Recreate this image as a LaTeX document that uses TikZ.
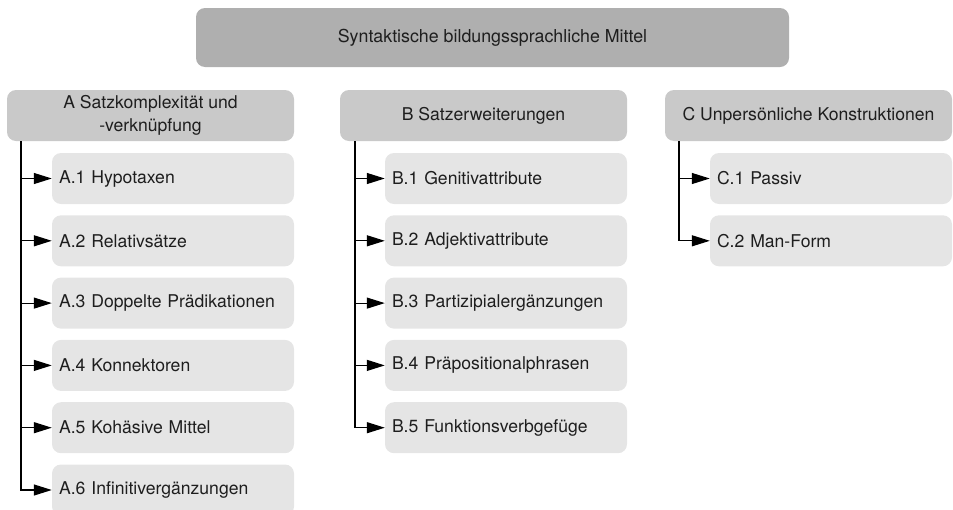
\documentclass[tikz,border=0pt]{standalone}
\usepackage{fontspec}
\setmainfont{TeX Gyre Heros}
\usetikzlibrary{arrows.meta}
\definecolor{topgray}{HTML}{AFAFAF}
\definecolor{headgray}{HTML}{C9C9C9}
\definecolor{itemgray}{HTML}{E5E5E5}
\definecolor{textgray}{HTML}{1E1E1E}
\tikzset{
	topbox/.style={fill=topgray, rounded corners=9pt, minimum width=593pt, minimum height=59pt, text=textgray, font=\fontsize{17.8}{23}\selectfont},
	headbox/.style={fill=headgray, rounded corners=9pt, minimum width=287pt, minimum height=51pt, align=center, text=textgray, font=\fontsize{17.6}{23}\selectfont},
	itembox/.style={fill=itemgray, rounded corners=9pt, text width=228pt, inner xsep=7pt, minimum height=51pt, align=left, text=textgray, font=\fontsize{17.6}{23}\selectfont},
	trunk/.style={line width=1.2pt, -{Triangle[length=18pt,width=11pt]}}
}

\begin{document}
\begin{tikzpicture}[x=1pt,y=-1pt]
	\useasboundingbox (0,0) rectangle (953,509);
	\node[topbox] (top) at (492.5, 37.5) {Syntaktische bildungssprachliche Mittel};
	\node[headbox] (hA) at (150.5, 115.5) {A Satzkomplexität und\\-verknüpfung};
	\node[headbox] (hB) at (483.5, 115.5) {B Satzerweiterungen};
	\node[headbox] (hC) at (808.5, 115.5) {C Unpersönliche Konstruktionen};
	\node[itembox] (a1) at (173, 178.5) {A.1 Hypotaxen};
	\node[itembox] (a2) at (173, 240.8) {A.2 Relativsätze};
	\node[itembox] (a3) at (173, 303.1) {A.3 Doppelte Prädikationen};
	\node[itembox] (a4) at (173, 365.4) {A.4 Konnektoren};
	\node[itembox] (a5) at (173, 427.7) {A.5 Kohäsive Mittel};
	\node[itembox] (a6) at (173, 490) {A.6 Infinitivergänzungen};
	\node[itembox] (b1) at (506, 178.5) {B.1 Genitivattribute};
	\node[itembox] (b2) at (506, 240.8) {B.2 Adjektivattribute};
	\node[itembox] (b3) at (506, 303.1) {B.3 Partizipialergänzungen};
	\node[itembox] (b4) at (506, 365.4) {B.4 Präpositionalphrasen};
	\node[itembox] (b5) at (506, 427.7) {B.5 Funktionsverbgefüge};
	\node[itembox] (c1) at (831, 178.5) {C.1 Passiv};
	\node[itembox] (c2) at (831, 240.8) {C.2 Man-Form};
	\coordinate (ta) at (21, 141);
	\coordinate (tb) at (355, 141);
	\coordinate (tc) at (679, 141);
	\draw[trunk] (ta) |- (a6.west);
	\draw[trunk] (ta |- a1.west) -- (a1.west);
	\draw[trunk] (ta |- a2.west) -- (a2.west);
	\draw[trunk] (ta |- a3.west) -- (a3.west);
	\draw[trunk] (ta |- a4.west) -- (a4.west);
	\draw[trunk] (ta |- a5.west) -- (a5.west);
	\draw[trunk] (tb) |- (b5.west);
	\draw[trunk] (tb |- b1.west) -- (b1.west);
	\draw[trunk] (tb |- b2.west) -- (b2.west);
	\draw[trunk] (tb |- b3.west) -- (b3.west);
	\draw[trunk] (tb |- b4.west) -- (b4.west);
	\draw[trunk] (tc) |- (c2.west);
	\draw[trunk] (tc |- c1.west) -- (c1.west);
\end{tikzpicture}
\end{document}
